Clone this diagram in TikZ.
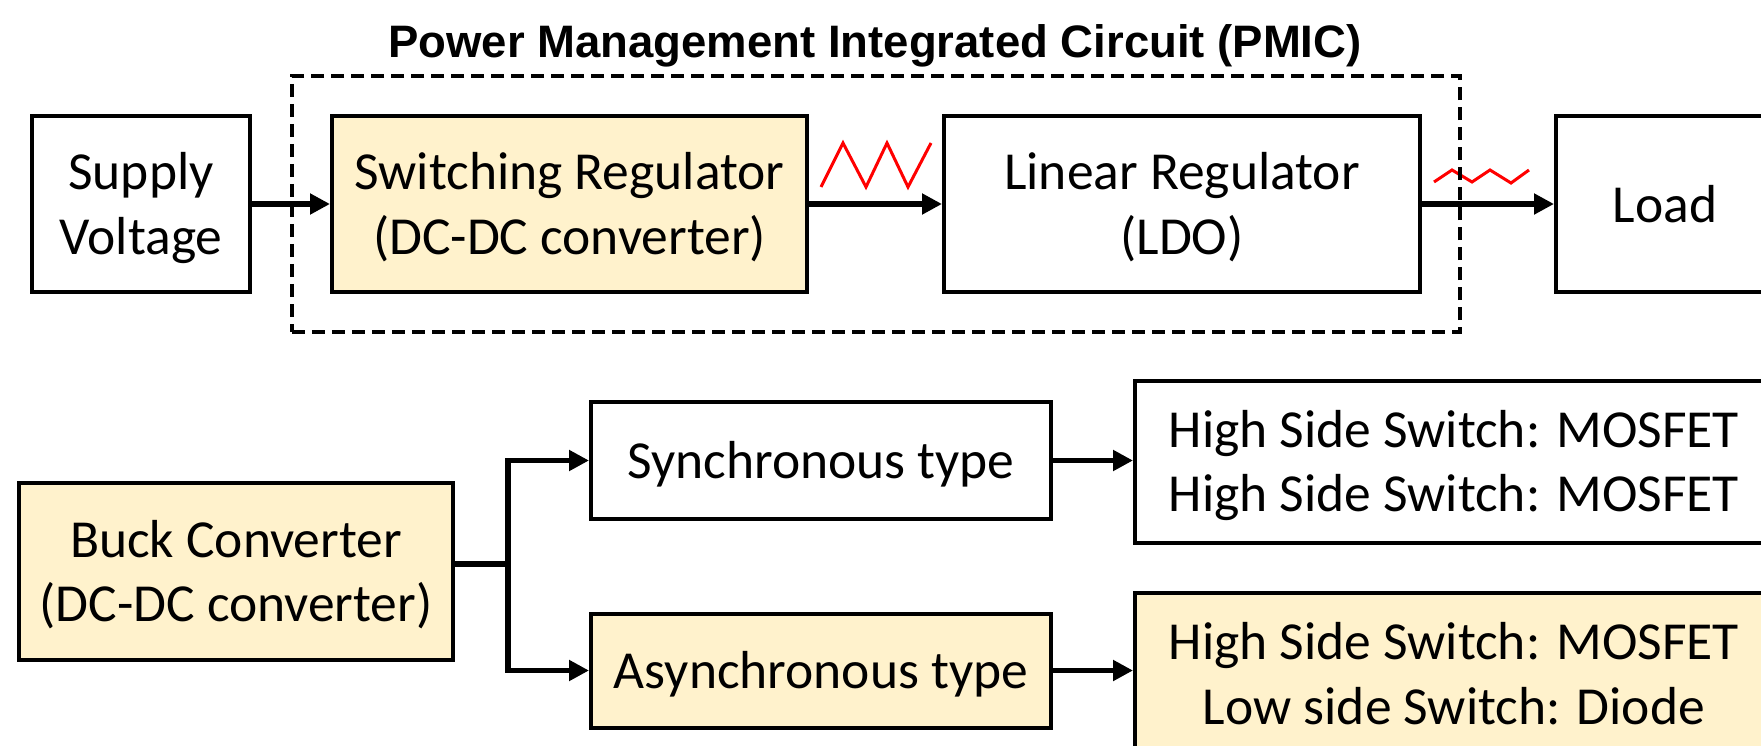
\documentclass[tikz,border=0pt]{standalone}
\usepackage{fontspec}
\setmainfont{Carlito}
\newfontfamily\titlefont{Liberation Sans}
\usetikzlibrary{arrows.meta}
\definecolor{boxfill}{HTML}{FFF2CC}
\definecolor{wavered}{HTML}{FF0000}
\tikzset{
  blk/.style={draw=black, line width=4bp, inner sep=0pt, align=center,
    font=\fontsize{53.5bp}{64.5bp}\selectfont},
  oneline/.style={text height=47bp, text depth=11bp},
  twoline/.style={text height=120bp, text depth=20bp},
  hl/.style={fill=boxfill},
  conn/.style={line width=5.5bp, -{Triangle[length=20bp,width=20bp]}},
  plainline/.style={line width=5.5bp},
  pmic/.style={draw=black, line width=3.5bp, dash pattern=on 13bp off 7bp},
  wave/.style={draw=wavered, line width=3bp},
  ttl/.style={font=\titlefont\bfseries\fontsize{45.5bp}{54bp}\selectfont, inner sep=0pt, anchor=base}
}
\begin{document}
\begin{tikzpicture}[x=1bp,y=-1bp]
\useasboundingbox (0,0) rectangle (1761,746);
\clip (0,0) rectangle (1761,746);

% title
\node[ttl] (title) at (875,58) {Power Management Integrated Circuit (PMIC)};

% top row
\node[blk, twoline, minimum width=218bp, minimum height=176bp] (supply) at (141,204) {Supply\\Voltage};
\node[blk, twoline, hl, minimum width=475bp, minimum height=176bp] (switch) at (569.5,204) {Switching Regulator\\(DC-DC converter)};
\node[blk, twoline, minimum width=476bp, minimum height=176bp] (linear) at (1182,204) {Linear Regulator\\(LDO)};
\node[blk, oneline, minimum width=218bp, minimum height=176bp] (load) at (1665,204) {Load};

% ripple waves
\draw[wave] (821,187) -- (843,143) -- (866,187) -- (887,143) -- (908,187) -- (931,143);
\draw[wave] (1434,182) -- (1452,170) -- (1472,182) -- (1490,170) -- (1511,183) -- (1529,170);

\draw[conn] (supply.east) -- (switch.west);
\draw[conn] (switch.east) -- (linear.west);
\draw[conn] (linear.east) -- (load.west);

% PMIC boundary
\node[pmic, minimum width=1168bp, minimum height=256bp] (pmicbox) at (876,204) {};

% bottom part
\node[blk, twoline, hl, minimum width=434bp, minimum height=177bp] (buck) at (236,571.5) {Buck Converter\\(DC-DC converter)};
\node[blk, oneline, minimum width=460bp, minimum height=117bp] (sync) at (821,460.5) {Synchronous type};
\node[blk, oneline, hl, minimum width=460bp, minimum height=114bp] (async) at (821,670.5) {Asynchronous type};
\node[blk, twoline, minimum width=638bp, minimum height=162bp] (hsone) at (1454,461.5) {High Side Switch: MOSFET\\High Side Switch: MOSFET};
\node[blk, twoline, hl, minimum width=638bp, minimum height=162bp] (hstwo) at (1454,674) {High Side Switch: MOSFET\\Low side Switch: Diode};

\coordinate (j) at (508,564);
\draw[plainline] (buck.east |- j) -- (j);
\draw[conn] (j) |- (sync.west);
\draw[conn] (j) |- (async.west);
\draw[conn] (sync.east) -- (hsone.west |- sync.east);
\draw[conn] (async.east) -- (hstwo.west |- async.east);
\end{tikzpicture}
\end{document}
